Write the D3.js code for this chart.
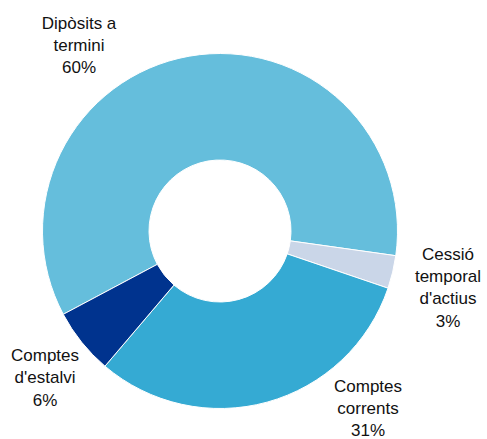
<!DOCTYPE html>
<html>
<head>
<meta charset="utf-8">
<script src="https://cdn.jsdelivr.net/npm/d3@7"></script>
<style>
  html, body { margin: 0; padding: 0; background: #fff; }
  svg { display: block; }
</style>
</head>
<body>
<script>
// ---- data ----
const categories = ["Dipòsits a termini", "Cessió temporal d'actius", "Comptes corrents", "Comptes d'estalvi"];
const values = [60, 3, 31, 6];
const labelLines = [["Dipòsits a", "termini"], ["Cessió", "temporal", "d'actius"], ["Comptes", "corrents"], ["Comptes", "d'estalvi"]];
const colors = ["#65BEDC", "#CAD6E8", "#35AAD3", "#00338E"];

// ---- layout ----
const W = 487, H = 439;
const cx = 220, cy = 231, outerR = 177.5, innerR = 71;
const start = -118 * Math.PI / 180;
// label anchor (center x, first baseline y)
const labelAnchor = [[79, 28.5], [448, 259.5], [368, 391.5], [45, 361]];
const lineH = 22.4;

const svg = d3.select("body").append("svg").attr("width", W).attr("height", H);

const pie = d3.pie().sort(null).value(d => d).startAngle(start).endAngle(start + 2 * Math.PI);
const arc = d3.arc().innerRadius(innerR).outerRadius(outerR);
const arcs = pie(values);

const g = svg.append("g").attr("transform", `translate(${cx},${cy})`);
g.selectAll("path").data(arcs).join("path")
  .attr("d", arc)
  .attr("fill", (d, i) => colors[i])
  .attr("stroke", "#fff")
  .attr("stroke-width", 1);

const labels = svg.append("g")
  .attr("font-family", "'Liberation Sans', Arial, sans-serif")
  .attr("font-size", 17)
  .attr("fill", "#111")
  .attr("text-anchor", "middle");

arcs.forEach((a, i) => {
  const lines = labelLines[i].concat([values[i] + "%"]);
  const t = labels.append("text").attr("x", labelAnchor[i][0]).attr("y", labelAnchor[i][1]);
  lines.forEach((ln, j) => {
    t.append("tspan").attr("x", labelAnchor[i][0]).attr("dy", j === 0 ? 0 : lineH).text(ln);
  });
});
</script>
</body>
</html>
